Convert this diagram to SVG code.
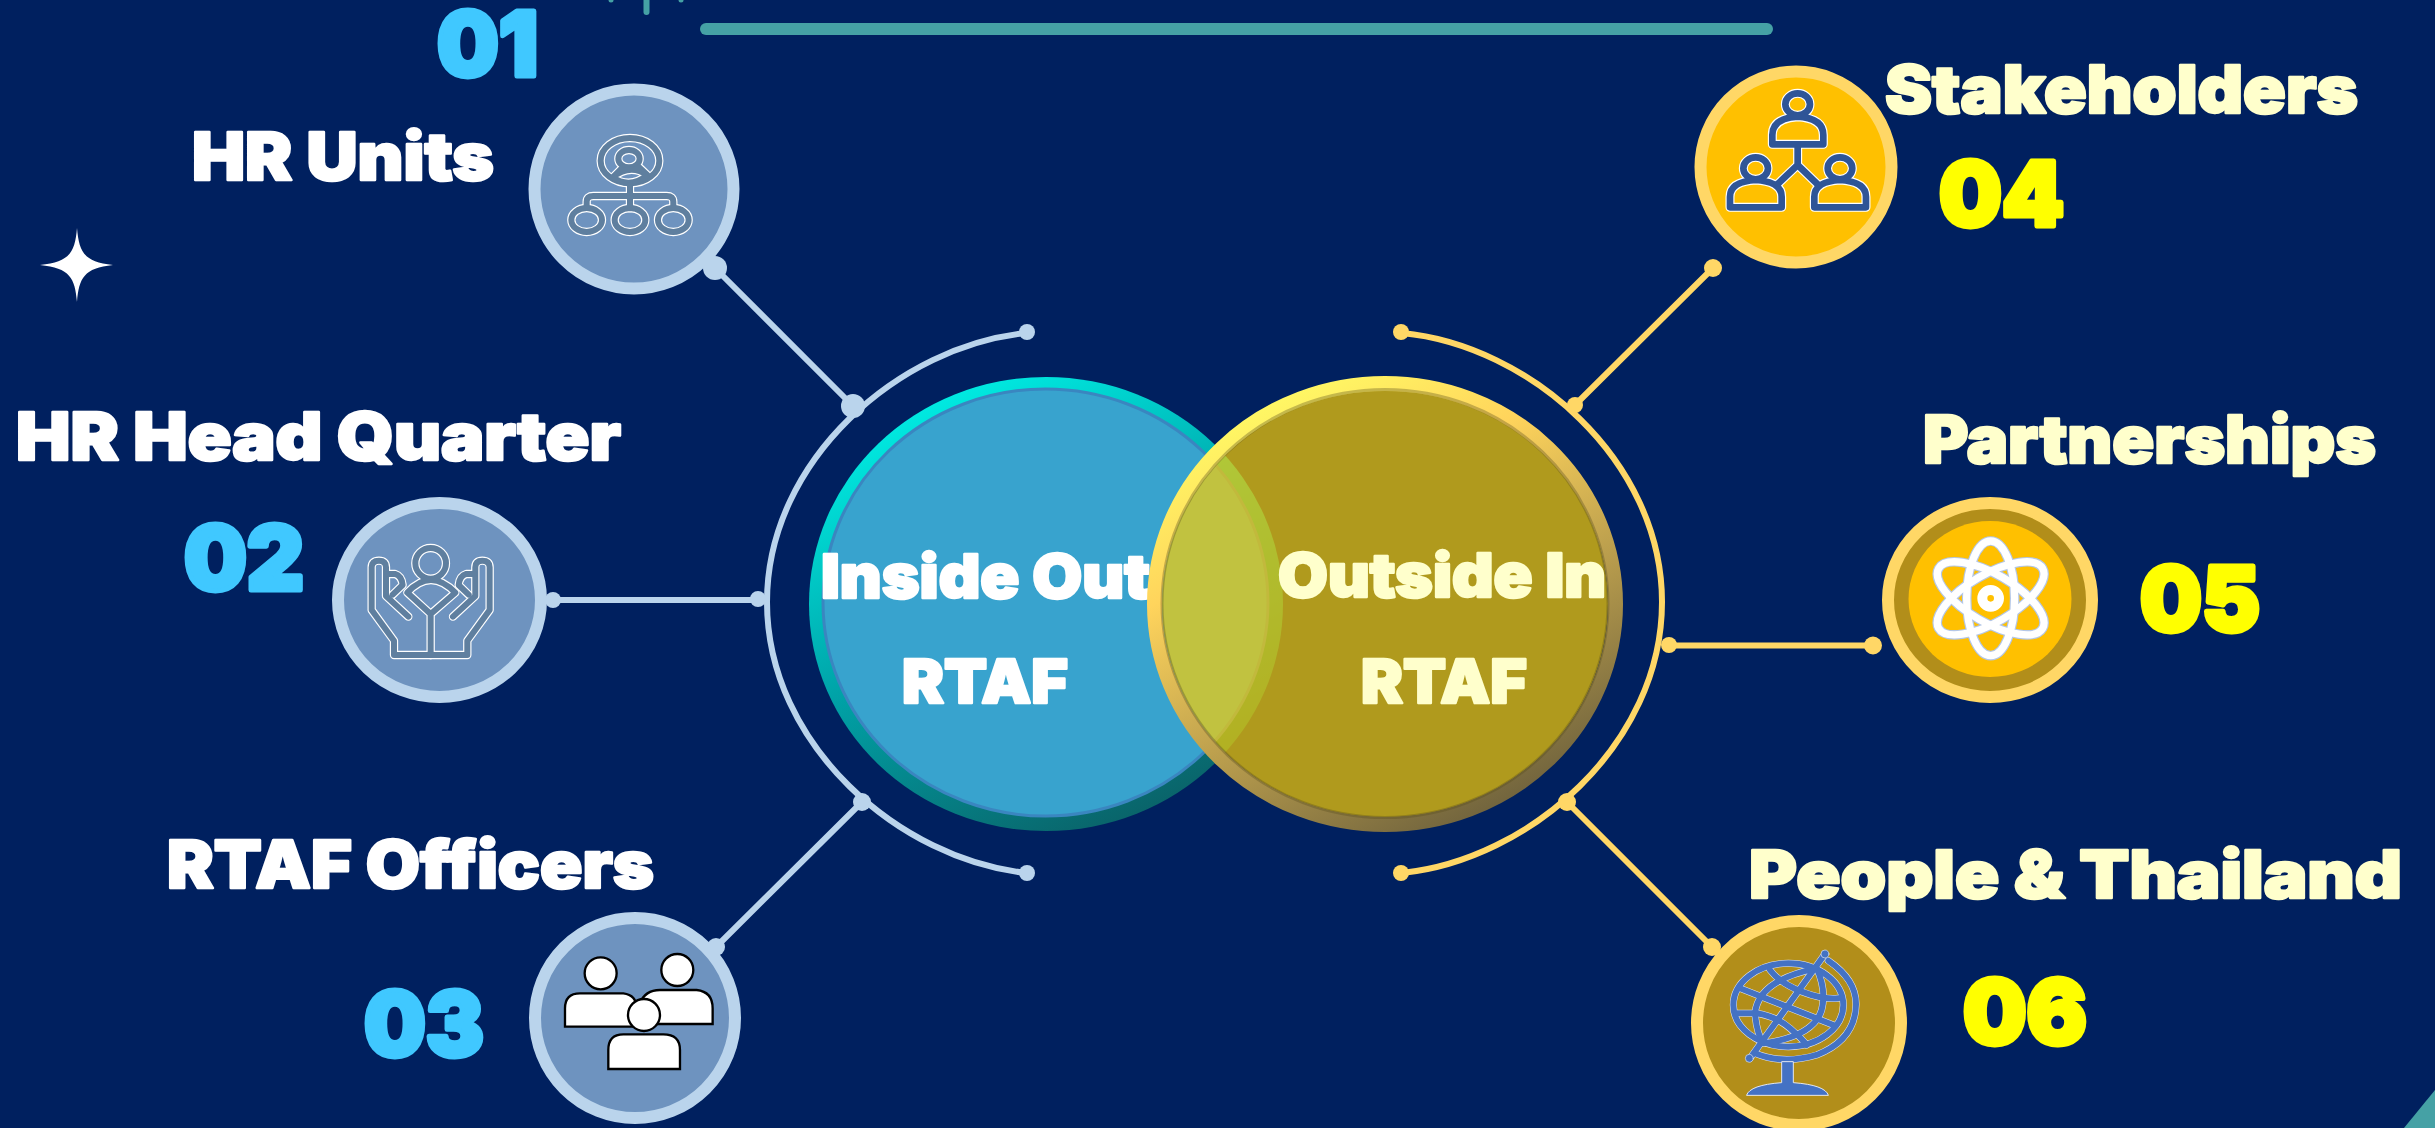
<svg xmlns="http://www.w3.org/2000/svg" xmlns:xlink="http://www.w3.org/1999/xlink" width="2435" height="1128" viewBox="0 0 2435 1128">
<style>
text{font-family:"Inter","Liberation Sans",sans-serif;font-weight:900;stroke-linejoin:round}
.w{fill:#fff;stroke:#fff}.c{fill:#ffffcc;stroke:#ffffcc}.b{fill:#40c8ff;stroke:#40c8ff}.y{fill:#ffff00;stroke:#ffff00}
.lab{font-size:66px;stroke-width:2.5px}.num{font-size:90px;stroke-width:5px}.mid{font-size:61px;stroke-width:2.5px}
.ringB{fill:#6e93bf;stroke:#bad4ec;stroke-width:12}
.ringY{stroke:#ffd766;stroke-width:12}
.lb{fill:none;stroke:#bad4ec;stroke-width:6;stroke-linecap:round}
.ly{fill:none;stroke:#ffd766;stroke-width:6;stroke-linecap:round}
.db{fill:#bad4ec}.dy{fill:#ffd766}
.teal{fill:#45a1a5}
.ico{fill:none;stroke-linejoin:round;stroke-linecap:round}
.e1{stroke:#fff;stroke-width:25}.f1{stroke:#5f7f9f;stroke-width:18}
.e4{stroke:#fff;stroke-width:27}.f4{stroke:#2f5597;stroke-width:20}
.e5{stroke:#b4c7e7;stroke-width:29}.f5{stroke:#fff;stroke-width:22}
.e6{stroke:#e4e8f0;stroke-width:21}.f6{stroke:#4472c4;stroke-width:18}
.ppl{fill:#fff;stroke:#000;stroke-width:7}
</style>
<defs>
<linearGradient id="gL" x1="0.2" y1="0" x2="0.7" y2="1"><stop offset="0" stop-color="#00f5ea"/><stop offset="0.5" stop-color="#00a3a8"/><stop offset="1" stop-color="#0a6066"/></linearGradient>
<linearGradient id="gR" x1="0.2" y1="0" x2="0.75" y2="1"><stop offset="0" stop-color="#ffff66"/><stop offset="0.3" stop-color="#ffd45c"/><stop offset="0.65" stop-color="#b59a4c"/><stop offset="1" stop-color="#6b5f3c"/></linearGradient>
<g id="i1">
<ellipse cx="390" cy="272" rx="88" ry="68"/>
<ellipse cx="387" cy="266" rx="32" ry="26"/>
<path d="M338 322L362 298M442 315L418 292M338 322Q390 280 442 315M338 322Q390 358 442 315"/>
<path d="M390 345V415M260 412V395Q260 378 280 378H500Q520 378 520 395V412"/>
<ellipse cx="260" cy="450" rx="46" ry="36"/><ellipse cx="390" cy="450" rx="46" ry="36"/><ellipse cx="520" cy="450" rx="46" ry="36"/>
</g>
<g id="i2half">
<path d="M452 555H342V512L275 420V292Q275 272 297 272Q318 272 318 292V378L385 440"/>
<path d="M322 312H345Q365 318 368 345L338 374"/>
</g>
<g id="i2">
<circle cx="452" cy="280" r="46"/>
<path d="M382 368Q452 292 526 368L452 432ZM452 432V555"/>
<use href="#i2half"/><use href="#i2half" transform="matrix(-1 0 0 1 904 0)"/>
</g>
<g id="i4">
<ellipse cx="353" cy="163" rx="37" ry="33"/>
<path d="M277 283V255Q277 205 353 200Q430 205 430 255V283ZM353 290V345L290 405M353 345L415 405"/>
<ellipse cx="227" cy="355" rx="37" ry="33"/>
<path d="M150 472V440Q150 395 227 390Q305 395 305 440V472Z"/>
<ellipse cx="480" cy="355" rx="37" ry="33"/>
<path d="M403 472V440Q403 395 480 390Q558 395 558 440V472Z"/>
</g>
<g id="i5">
<ellipse cx="422" cy="355" rx="72" ry="172"/>
<ellipse cx="422" cy="355" rx="72" ry="180" transform="rotate(60 422 355)"/>
<ellipse cx="422" cy="355" rx="72" ry="180" transform="rotate(-60 422 355)"/>
</g>
<g id="i6">
<ellipse cx="265" cy="225" rx="165" ry="125"/>
<path d="M350 115Q175 150 165 250Q170 310 190 340Q340 320 365 240Q380 180 350 115"/>
<path d="M120 175L400 285M210 120Q240 160 305 185T415 205M110 250H170Q230 260 270 295T320 345"/>
<path d="M375 72L150 385"/>
<path d="M385 92Q470 150 468 225Q465 330 350 375Q250 405 165 370" />
</g>
</defs>
<rect width="2435" height="1128" fill="#00205f"/>
<g id="decor">
<rect x="700" y="23" width="1073" height="12" rx="6" class="teal"/>
<rect x="643.500" y="-6" width="6" height="21" rx="3" class="teal"/>
<circle cx="611" cy="0" r="2.500" class="teal"/><circle cx="681" cy="0" r="2.500" class="teal"/>
<polygon points="2404,1128 2435,1090 2435,1128" class="teal"/>
<path d="M77 228C79 252 84 262 113 265C84 268 79 278 77 302C75 278 70 268 40 265C70 262 75 252 77 228Z" fill="#fff"/>
</g>
<g id="connectors">
<path class="lb" d="M1027 333C900 345 767 460 767 602C767 745 900 860 1027 873"/>
<path class="ly" d="M1402 333C1529 345 1662 460 1662 602C1662 745 1529 860 1402 873"/>
<path class="lb" d="M715 268L853 406M553 600H758M716 947L862 802"/>
<path class="ly" d="M1713 268L1575 405M1668 645.500H1873M1567 802L1712 947"/>
<circle class="db" cx="1027" cy="332" r="8"/><circle class="db" cx="1027" cy="873" r="8"/>
<circle class="dy" cx="1401" cy="332" r="8"/><circle class="dy" cx="1401" cy="873" r="8"/>
<circle class="db" cx="715" cy="268" r="12"/><circle class="db" cx="853" cy="406" r="12"/>
<circle class="db" cx="553" cy="600" r="8"/><circle class="db" cx="758" cy="599" r="8"/>
<circle class="db" cx="716" cy="947" r="9"/><circle class="db" cx="862" cy="802" r="9"/>
<circle class="dy" cx="1713" cy="268" r="9"/><circle class="dy" cx="1575" cy="405" r="8"/>
<circle class="dy" cx="1669" cy="645" r="8"/><circle class="dy" cx="1873" cy="645.500" r="9"/>
<circle class="dy" cx="1567" cy="802" r="9"/><circle class="dy" cx="1712" cy="947" r="9"/>
</g>
<g id="node-01">
<circle class="ringB" cx="634" cy="189" r="99.500"/>
<g class="ico" transform="translate(500,70) scale(.3333)"><use href="#i1" class="e1"/><use href="#i1" class="f1"/></g>
<text class="num b" x="437" y="76" textLength="101" lengthAdjust="spacingAndGlyphs">01</text>
<text class="lab w" x="192" y="180" textLength="302" lengthAdjust="spacingAndGlyphs">HR Units</text>
</g>
<g id="node-02">
<ellipse class="ringB" cx="439.500" cy="600" rx="101.500" ry="97"/>
<g class="ico" transform="translate(280,470) scale(.3333)"><use href="#i2" class="e1"/><use href="#i2" class="f1"/></g>
<text class="num b" x="184" y="590" textLength="120" lengthAdjust="spacingAndGlyphs">02</text>
<text class="lab w" x="16" y="460" textLength="605" lengthAdjust="spacingAndGlyphs">HR Head Quarter</text>
</g>
<g id="node-03">
<circle class="ringB" cx="635" cy="1018" r="100"/>
<g transform="translate(480,880) scale(.3333)">
<path class="ppl" d="M255 440V385Q255 340 300 340H430Q470 345 470 385V440Z"/><circle class="ppl" cx="362" cy="280" r="48"/>
<path class="ppl" d="M480 370Q495 330 540 330H650Q698 335 698 385V432H500Z"/><circle class="ppl" cx="592" cy="270" r="48"/>
<path class="ppl" d="M385 567V510Q385 463 430 463H550Q600 463 600 510V567Z"/><circle class="ppl" cx="492" cy="405" r="48"/>
</g>
<text class="num b" x="364" y="1056" textLength="120" lengthAdjust="spacingAndGlyphs">03</text>
<text class="lab w" x="167" y="888" textLength="487" lengthAdjust="spacingAndGlyphs">RTAF Officers</text>
</g>
<g id="node-04">
<circle class="ringY" fill="#ffc000" cx="1796" cy="167" r="95.500"/>
<g class="ico" transform="translate(1680,50) scale(.3333)"><use href="#i4" class="e4"/><use href="#i4" class="f4"/></g>
<text class="lab c" x="1885" y="113" textLength="473" lengthAdjust="spacingAndGlyphs">Stakeholders</text>
<text class="num y" x="1939" y="226" textLength="125" lengthAdjust="spacingAndGlyphs">04</text>
</g>
<g id="node-05">
<ellipse class="ringY" fill="#b28e1a" cx="1990" cy="600" rx="102" ry="97"/>
<ellipse fill="#ffc000" cx="1990" cy="599" rx="81.500" ry="78"/>
<g class="ico" transform="translate(1850,480) scale(.3333)"><use href="#i5" class="e5"/><use href="#i5" class="f5"/><circle cx="422" cy="355" r="25" stroke="#fff" stroke-width="30"/></g>
<text class="lab c" x="1923" y="463" textLength="453" lengthAdjust="spacingAndGlyphs">Partnerships</text>
<text class="num y" x="2140" y="631" textLength="120" lengthAdjust="spacingAndGlyphs">05</text>
</g>
<g id="node-06">
<circle class="ringY" fill="#b28e1a" cx="1799" cy="1023" r="102"/>
<g class="ico" transform="translate(1700,930) scale(.3333)"><use href="#i6" class="e6"/><use href="#i6" class="f6"/>
<circle cx="375" cy="72" r="12" fill="#4472c4" stroke="#e4e8f0" stroke-width="2"/><circle cx="148" cy="385" r="12" fill="#4472c4" stroke="#e4e8f0" stroke-width="2"/>
<path d="M140 495Q150 465 245 458V395H280V458Q375 465 385 495Z" fill="#4472c4" stroke="#e4e8f0" stroke-width="3"/></g>
<text class="lab c" x="1749" y="898" textLength="653" lengthAdjust="spacingAndGlyphs">People &amp; Thailand</text>
<text class="num y" x="1963" y="1044" textLength="124" lengthAdjust="spacingAndGlyphs">06</text>
</g>
<g id="node-inside-out">
<ellipse cx="1046" cy="604" rx="237" ry="227" fill="url(#gL)"/>
<ellipse cx="1045.500" cy="602.500" rx="222.500" ry="213.500" fill="#38a3ce" stroke="#3a86c0" stroke-width="3"/>
<text class="mid w" x="821" y="598" textLength="329" lengthAdjust="spacingAndGlyphs">Inside Out</text>
<text class="mid w" x="902" y="703" textLength="166" lengthAdjust="spacingAndGlyphs">RTAF</text>
</g>
<g id="node-outside-in">
<ellipse cx="1385" cy="603.500" rx="223" ry="214" fill="#ffd000" fill-opacity=".69"/>
<ellipse cx="1385" cy="604" rx="230.500" ry="220.500" fill="none" stroke="url(#gR)" stroke-width="15"/>
<ellipse cx="1385" cy="603.500" rx="223" ry="214" fill="none" stroke="#5a4e1e" stroke-opacity=".35" stroke-width="3"/>
<text class="mid c" x="1278" y="597" textLength="328" lengthAdjust="spacingAndGlyphs">Outside In</text>
<text class="mid c" x="1361" y="703" textLength="166" lengthAdjust="spacingAndGlyphs">RTAF</text>
</g>
</svg>
